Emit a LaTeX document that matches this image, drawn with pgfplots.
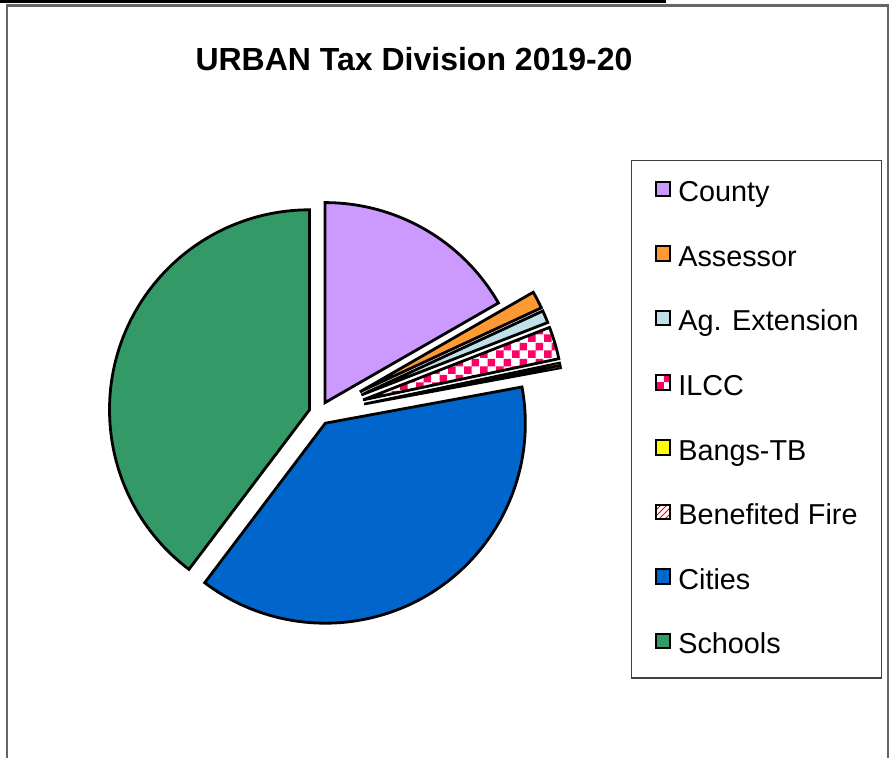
\documentclass[border=0pt]{standalone}
\usepackage{pgfplots}
\pgfplotsset{compat=1.18}
\usepackage{pgfplotstable}
\usepackage{fontspec}
\setmainfont{Liberation Sans}
\usetikzlibrary{patterns}

% slice shares (percent) and explosion offset (px)
\pgfplotstableread{
label    pct   expl
County   16.7  12
Assessor 1.4   46
AgExt    1.0   46
ILCC     2.6   46
BangsTB  0.2   46
BenFire  0.2   46
Cities   38.2  12
Schools  39.7  10
}\piedata

\definecolor{county}{HTML}{CC99FF}
\definecolor{assessor}{HTML}{FF9933}
\definecolor{agext}{HTML}{C0E0E8}
\definecolor{ilcc}{HTML}{FF0066}
\definecolor{bangs}{HTML}{FFFF00}
\definecolor{cities}{HTML}{0066CC}
\definecolor{schools}{HTML}{339966}

\pgfdeclarepatternformonly{smallchecker}{\pgfpointorigin}{\pgfqpoint{8pt}{8pt}}{\pgfqpoint{8pt}{8pt}}{%
  \pgfpathrectangle{\pgfpointorigin}{\pgfqpoint{4pt}{4pt}}%
  \pgfpathrectangle{\pgfqpoint{4pt}{4pt}}{\pgfqpoint{4pt}{4pt}}%
  \pgfusepath{fill}}

\tikzset{
  slice0/.style={fill=county},
  slice1/.style={fill=assessor},
  slice2/.style={fill=agext},
  slice3/.style={pattern=smallchecker, pattern color=ilcc},
  slice4/.style={fill=bangs},
  slice5/.style={pattern=north east lines, pattern color=red},
  slice6/.style={fill=cities},
  slice7/.style={fill=schools},
}

\begin{document}
\begin{tikzpicture}
\begin{axis}[
    x=0.5pt, y=0.5pt,
    xmin=0, xmax=892, ymin=0, ymax=758,
    enlargelimits=false,
    hide axis,
    clip=false,
    title={URBAN Tax Division 2019-20},
    title style={at={(0.4641,0.8914)}, anchor=base, font=\bfseries\fontsize{16}{18}\selectfont},
    legend style={
        at={(axis cs:631,598)}, anchor=north west,
        draw=black!75, line width=0.7pt, fill=white,
        inner xsep=11.5pt, inner ysep=5pt,
        row sep=9.8pt, column sep=3.5pt,
        font=\fontsize{14.4}{16}\selectfont,
        nodes={inner sep=0pt, text height=15.5pt, text depth=7pt},
    },
    legend cell align=left,
    legend image code/.code={\draw[#1, draw=black, line width=1pt] (0pt,-1.5pt) rectangle (7.3pt,5.8pt);},
]
% frame of the chart area
\fill[black] (axis cs:0,755) rectangle (axis cs:666,758);
\draw[black!60, line width=1.1pt] (axis cs:7,-10) -- (axis cs:7,752.5) -- (axis cs:888,752.5) -- (axis cs:888,-10);

% pie slices, clockwise from 12 o'clock
\xdef\cum{0}
\foreach \i in {0,...,7} {
  \pgfplotstablegetelem{\i}{pct}\of\piedata \let\p\pgfplotsretval
  \pgfplotstablegetelem{\i}{expl}\of\piedata \let\e\pgfplotsretval
  \pgfmathsetmacro\aS{\cum*3.6}
  \pgfmathsetmacro\aE{(\cum+\p)*3.6}
  \pgfmathsetmacro\aM{(\aS+\aE)/2}
  \pgfmathsetmacro\ox{319+\e*sin(\aM)}
  \pgfmathsetmacro\oy{345+\e*cos(\aM)}
  \pgfmathsetmacro\sx{\ox+200*sin(\aS)}
  \pgfmathsetmacro\sy{\oy+200*cos(\aS)}
  \pgfmathsetmacro\cs{90-\aS}
  \pgfmathsetmacro\ce{90-\aE}
  \pgfmathsetmacro\lw{\p<0.5 ? 1.0 : 1.4}
  \edef\temp{\noexpand\filldraw[slice\i, draw=black, line width=\lw pt]
    (axis cs:\ox,\oy) -- (axis cs:\sx,\sy)
    arc[start angle=\cs, end angle=\ce, radius=100pt] -- cycle;}
  \temp
  \pgfmathsetmacro\c{\cum+\p}
  \xdef\cum{\c}
}

\addlegendimage{slice0}\addlegendentry{County}
\addlegendimage{slice1}\addlegendentry{Assessor}
\addlegendimage{slice2}\addlegendentry{Ag. Extension}
\addlegendimage{slice3}\addlegendentry{ILCC}
\addlegendimage{slice4}\addlegendentry{Bangs-TB}
\addlegendimage{slice5}\addlegendentry{Benefited Fire}
\addlegendimage{slice6}\addlegendentry{Cities}
\addlegendimage{slice7}\addlegendentry{Schools}
\end{axis}
\pgfresetboundingbox
\useasboundingbox (0,0) rectangle (446pt,379pt);
\end{tikzpicture}
\end{document}
